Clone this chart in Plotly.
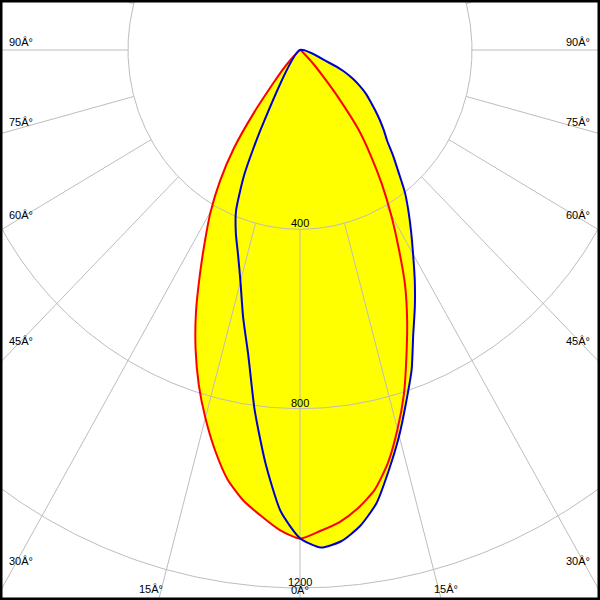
import numpy as np
import plotly.graph_objects as go

# ---- data ----
gamma = [-50, -47.5, -45, -42.5, -40, -37.5, -35, -32.5, -30, -27.5, -25, -22.5, -20,
         -17.5, -15, -12.5, -10, -7.5, -5, -2.5, 0, 2.5, 5, 7.5, 10, 12.5, 15, 17.5,
         20, 22.5, 25, 27.5, 30, 32.5, 35, 37.5, 40, 42.5, 45, 47.5, 50, 52.5, 55,
         57.5, 60, 62.5, 65, 67.5, 70, 72.5, 75]

c0_c180 = [0, 10, 30, 60, 97, 174, 269, 346, 415, 478, 550, 632, 710,
           783, 850, 914, 972, 1013, 1043, 1072, 1090, 1074, 1057, 1031, 997, 944, 876, 804,
           724, 651, 578, 496, 423, 354, 286, 223, 140, 77, 45, 20, 0, 0, 0,
           0, 0, 0, 0, 0, 0, 0, 0]

c90_c270 = [0, 0, 0, 0, 0, 0, 0, 0, 0, 190, 306, 389, 436,
            479, 535, 611, 692, 809, 924, 1030, 1089, 1111, 1100, 1071, 1026, 958, 891, 822,
            759, 688, 632, 578, 526, 481, 440, 401, 357, 321, 287, 264, 242, 220, 200,
            182, 161, 138, 112, 70, 0, 0, 0]

radial_ticks = [400, 800, 1200]
angle_grid = [-180, -165, -150, -135, -120, -105, -90, -75, -60, -45, -30, -15, 0,
              15, 30, 45, 60, 75, 90, 105, 120, 135, 150, 165]
angle_labels = [90, 75, 60, 45, 30, 15, 0]

# ---- helpers ----
def to_xy(ang_deg, r):
    a = np.radians(np.asarray(ang_deg, dtype=float))
    r = np.asarray(r, dtype=float)
    return r * np.sin(a), -r * np.cos(a)

def curve_xy(ang, vals):
    # keep the lit part of the curve, closed through the luminaire centre once
    ang = np.asarray(ang, dtype=float)
    vals = np.asarray(vals, dtype=float)
    nz = np.nonzero(vals > 0)[0]
    sel = slice(nz[0], nz[-1] + 1)
    x, y = to_xy(ang[sel], vals[sel])
    x = np.concatenate([[0.0], x, [0.0]])
    y = np.concatenate([[0.0], y, [0.0]])
    return x, y

FONT = dict(family="Liberation Sans, Arial, sans-serif", size=11, color="black")
GRID = "#bdbdbd"
YELLOW = "#ffff00"
SMOOTH = dict(shape="spline", smoothing=0.6)

fig = go.Figure()

# fills (union of both planes)
for vals in (c90_c270, c0_c180):
    x, y = curve_xy(gamma, vals)
    fig.add_trace(go.Scatter(x=x, y=y, mode="lines", fill="toself",
                             fillcolor=YELLOW, line=dict(width=0, color=YELLOW, **SMOOTH),
                             hoverinfo="skip", showlegend=False))

# grid circles
t = np.linspace(0, 360, 721)
for r in radial_ticks:
    x, y = to_xy(t, np.full_like(t, r))
    fig.add_trace(go.Scatter(x=x, y=y, mode="lines", line=dict(color=GRID, width=1),
                             hoverinfo="skip", showlegend=False))

# radial grid lines starting at the first circle
gx, gy = [], []
for a in angle_grid:
    x, y = to_xy([a, a], [radial_ticks[0], 5000])
    gx += list(x) + [None]
    gy += list(y) + [None]
fig.add_trace(go.Scatter(x=gx, y=gy, mode="lines", line=dict(color=GRID, width=1),
                         hoverinfo="skip", showlegend=False))

# curves
for vals, col in ((c0_c180, "#ff0000"), (c90_c270, "#0000d0")):
    x, y = curve_xy(gamma, vals)
    fig.add_trace(go.Scatter(x=x, y=y, mode="lines", line=dict(color=col, width=2, **SMOOTH),
                             hoverinfo="skip", showlegend=False))

# radial value labels
ann = []
for r in radial_ticks:
    ann.append(dict(x=0, y=-r, xref="x", yref="y", text=str(r), showarrow=False,
                    font=FONT, xanchor="center", yanchor="middle", yshift=6))

# angle labels (pixel placement of text)
left_pos = {90: (21, 42), 75: (21, 121.5), 60: (21, 215), 45: (21, 341),
            30: (21, 561), 15: (151, 589), 0: (299.5, 590)}
right_pos = {90: (578, 42), 75: (578, 121.5), 60: (578, 215), 45: (578, 341),
             30: (578, 561), 15: (446, 589)}
for a in angle_labels:
    txt = f"{a}Â°"
    for pos in (left_pos, right_pos):
        if a in pos:
            px, py = pos[a]
            ann.append(dict(x=px / 600, y=1 - py / 600, xref="paper", yref="paper",
                            text=txt, showarrow=False, font=FONT,
                            xanchor="center", yanchor="middle"))

XS, YS, CY = 0.43, 0.4483, 50
fig.update_layout(
    width=600, height=600,
    margin=dict(l=0, r=0, t=0, b=0),
    paper_bgcolor="white", plot_bgcolor="white",
    xaxis=dict(range=[-300 / XS, 300 / XS], visible=False, fixedrange=True),
    yaxis=dict(range=[-(600 - CY) / YS, CY / YS], visible=False, fixedrange=True),
    annotations=ann,
    shapes=[dict(type="rect", xref="paper", yref="paper", x0=0, y0=0, x1=1, y1=1,
                 line=dict(color="black", width=5))],
    showlegend=False,
)

fig.write_html("out.html", config={"displayModeBar": False},
               post_script="document.body.style.margin='0px';document.body.style.overflow='hidden';")
